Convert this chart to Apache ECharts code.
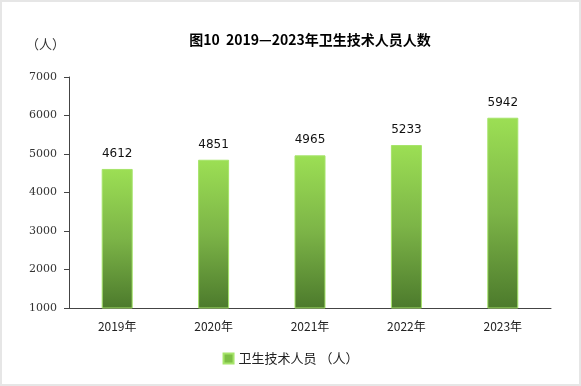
<!DOCTYPE html>
<html><head><meta charset="utf-8">
<script src="https://cdn.jsdelivr.net/npm/echarts@6/dist/echarts.min.js"></script>
<style>html,body{margin:0;padding:0;background:#fff}#c{width:581px;height:386px;box-sizing:border-box;border:2px solid #e6e6e6}</style>
</head><body><div id="c"></div>
<script>
const categories = ['2019年','2020年','2021年','2022年','2023年'];
const values = [4612, 4851, 4965, 5233, 5942];
const seriesName = '卫生技术人员 （人）';
const titleText = '图10  2019—2023年卫生技术人员人数';
const chart = echarts.init(document.getElementById('c'));
const font = '"Noto Sans CJK SC", sans-serif';
chart.setOption({
  animation: false,
  backgroundColor: '#fff',
  title: { text: titleText, left: 303, top: 26, textAlign: 'center',
    textStyle: { fontSize: 14, fontWeight: 'bold', color: '#000', fontFamily: font } },
  graphic: [{ type: 'text', left: 24, top: 36, style: { text: '（人）', fontSize: 13, fill: '#333', fontFamily: font } }],
  legend: { bottom: 14, left: 'center', itemWidth: 10, itemHeight: 10, itemGap: 5,
    textStyle: { fontSize: 13, color: '#222', fontFamily: font },
    data: [{ name: seriesName, icon: 'rect', itemStyle: { color: '#7dbf45' } }] },
  grid: { left: 67, right: 28, top: 75, bottom: 76 },
  xAxis: { type: 'category', data: categories,
    axisLine: { lineStyle: { color: '#444', width: 1 } }, axisTick: { show: false },
    axisLabel: { fontSize: 12, color: '#222', margin: 12, fontFamily: font } },
  yAxis: { type: 'value', min: 1000, max: 7000, interval: 1000,
    axisLine: { show: true, lineStyle: { color: '#444' } },
    axisTick: { show: true, length: 5, lineStyle: { color: '#444' } },
    splitLine: { show: false },
    axisLabel: { fontSize: 11, color: '#333', margin: 12, fontFamily: 'DejaVu Serif, serif', formatter: v => String(v) } },
  series: [{ name: seriesName, type: 'bar', data: values, barWidth: 31,
    itemStyle: { borderColor: '#a6e46a', borderWidth: 1,
      color: new echarts.graphic.LinearGradient(0, 0, 0, 1, [
        { offset: 0, color: '#9cdf54' }, { offset: 0.5, color: '#7cb447' }, { offset: 1, color: '#4c7a2c' }]) },
    label: { show: true, position: 'top', distance: 9, fontSize: 12, color: '#111', fontFamily: 'DejaVu Sans, sans-serif', formatter: p => String(p.value) } }]
});
</script></body></html>
